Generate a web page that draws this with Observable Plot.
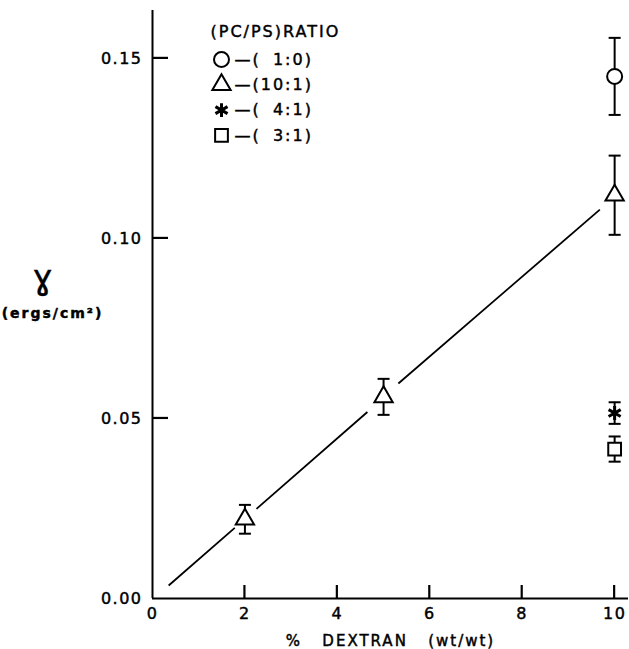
<!DOCTYPE html>
<html><head><meta charset="utf-8">
<script src="https://cdn.jsdelivr.net/npm/d3@7"></script>
<script src="https://cdn.jsdelivr.net/npm/@observablehq/plot@0.6"></script>
<style>
body{margin:0;background:#fff;}
#chart svg{font-family:"DejaVu Sans",sans-serif;}
#chart text{stroke:black;stroke-width:0.45px;}
#chart g[aria-label="y-axis tick label"] text{letter-spacing:1.5px;}
#chart g[aria-label="x-axis tick label"] text{letter-spacing:1.5px;}
#chart g[aria-label="text"] text{letter-spacing:2px;}
</style></head><body><div id="chart"></div>
<script>
// Series: PC/PS ratios and their markers
const ratios = ["1:0", "10:1", "4:1", "3:1"];
const ratioLabels = ["—(\u20071:0)", "—(10:1)", "—(\u20074:1)", "—(\u20073:1)"];
const symbols = ["circle", "triangle", "asterisk", "square"];

// Measured points
const pointDextran = [10, 2, 5, 10, 10, 10];
const pointRatio = ["1:0", "10:1", "10:1", "10:1", "4:1", "3:1"];
const pointGamma = [0.145, 0.022, 0.056, 0.112, 0.0515, 0.0415];
const pointError = [0.0107, 0.004, 0.005, 0.011, 0.003, 0.0035];

// Fitted line for 10:1 (drawn in pieces, broken at the markers)
const fitX1 = [0.35, 2.25, 5.32];
const fitY1 = [0.0036, 0.0249, 0.0597];
const fitX2 = [1.78, 4.65, 9.68];
const fitY2 = [0.0196, 0.0518, 0.108];

// Axes
const xTicks = [0, 2, 4, 6, 8, 10];
const yTicks = [0, 0.05, 0.10, 0.15];

const points = pointDextran.map((x, i) => ({
  x, ratio: pointRatio[i], y: pointGamma[i],
  lo: pointGamma[i] - pointError[i], hi: pointGamma[i] + pointError[i]
}));
const fit = fitX1.map((x, i) => ({x1: x, y1: fitY1[i], x2: fitX2[i], y2: fitY2[i]}));
const symOf = Object.fromEntries(ratios.map((r, i) => [r, symbols[i]]));

const cap = {draw(ctx, size) { const w = Math.sqrt(size / Math.PI); ctx.moveTo(-w, 0); ctx.lineTo(w, 0); }};
const sizeOf = {circle: 7.5, triangle: 6.8, asterisk: 6.6, square: 7.2};
const widthOf = s => s === "asterisk" ? 3 : 2;

const marks = [
  Plot.ruleX([0], {strokeWidth: 2}),
  Plot.ruleY([0], {strokeWidth: 2}),
  Plot.axisY({ticks: yTicks, tickSize: 0, tickPadding: 10, tickFormat: d3.format(".2f"), label: null, fontSize: 16}),
  Plot.axisX({ticks: xTicks, tickSize: 0, tickPadding: 9, tickFormat: d3.format("d"), label: null, fontSize: 16}),
  Plot.link(fit, {x1: "x1", y1: "y1", x2: "x2", y2: "y2", strokeWidth: 1.8}),
  Plot.ruleX(points, {x: "x", y1: "lo", y2: "hi", strokeWidth: 2}),
  Plot.dot(points, {x: "x", y: "lo", symbol: cap, r: 6, stroke: "black", fill: "none", strokeWidth: 2}),
  Plot.dot(points, {x: "x", y: "hi", symbol: cap, r: 6, stroke: "black", fill: "none", strokeWidth: 2}),
];
ratios.forEach(r => {
  const s = symOf[r];
  marks.push(Plot.dot(points.filter(d => d.ratio === r), {x: "x", y: "y", symbol: s, r: sizeOf[s],
    stroke: "black", fill: s === "asterisk" ? "none" : "white", strokeWidth: widthOf(s)}));
});
// Legend
marks.push(Plot.text(["(PC/PS)RATIO"], {frameAnchor: "top-left", dx: 58, dy: 21, textAnchor: "start", lineAnchor: "middle", fontSize: 16}));
ratios.forEach((r, i) => {
  const s = symOf[r];
  const dy = 49 + i * 25.3;
  marks.push(Plot.dot([r], {frameAnchor: "top-left", dx: 69, dy, symbol: s, r: sizeOf[s], stroke: "black",
    fill: s === "asterisk" ? "none" : "white", strokeWidth: widthOf(s)}));
  marks.push(Plot.text([ratioLabels[i]], {frameAnchor: "top-left", dx: 82, dy, textAnchor: "start", lineAnchor: "middle", fontSize: 16}));
});
// Axis titles
marks.push(Plot.text(["ɣ"], {frameAnchor: "top-left", dx: -109, dy: 268, textAnchor: "middle", lineAnchor: "middle", fontSize: 34}));
marks.push(Plot.text(["(ergs/cm²)"], {frameAnchor: "top-left", dx: -100, dy: 303, textAnchor: "middle", lineAnchor: "middle", fontSize: 14, fontWeight: "bold"}));
marks.push(Plot.text(["%\u00a0\u00a0\u00a0DEXTRAN\u00a0\u00a0\u00a0(wt/wt)"], {frameAnchor: "bottom", dx: 0, dy: 43, textAnchor: "middle", lineAnchor: "middle", fontSize: 15}));

const chart = Plot.plot({
  width: 629, height: 649,
  marginLeft: 152, marginRight: 1, marginTop: 10, marginBottom: 51,
  x: {domain: [0, 10.3]},
  y: {domain: [0, 0.1633]},
  style: {background: "white", color: "black"},
  marks
});
document.getElementById("chart").appendChild(chart);

// Inward tick stubs placed through the chart's own scales
const sx = chart.scale("x"), sy = chart.scale("y");
const x0 = sx.apply(0), y0 = sy.apply(0);
const g = d3.select(chart).append("g").attr("stroke", "black").attr("stroke-width", 2.2);
yTicks.slice(1).forEach(v => {
  g.append("line").attr("x1", x0).attr("x2", x0 + 16).attr("y1", sy.apply(v)).attr("y2", sy.apply(v));
});
xTicks.slice(1).forEach(v => {
  g.append("line").attr("x1", sx.apply(v)).attr("x2", sx.apply(v)).attr("y1", y0).attr("y2", y0 - 13);
});
</script></body></html>
